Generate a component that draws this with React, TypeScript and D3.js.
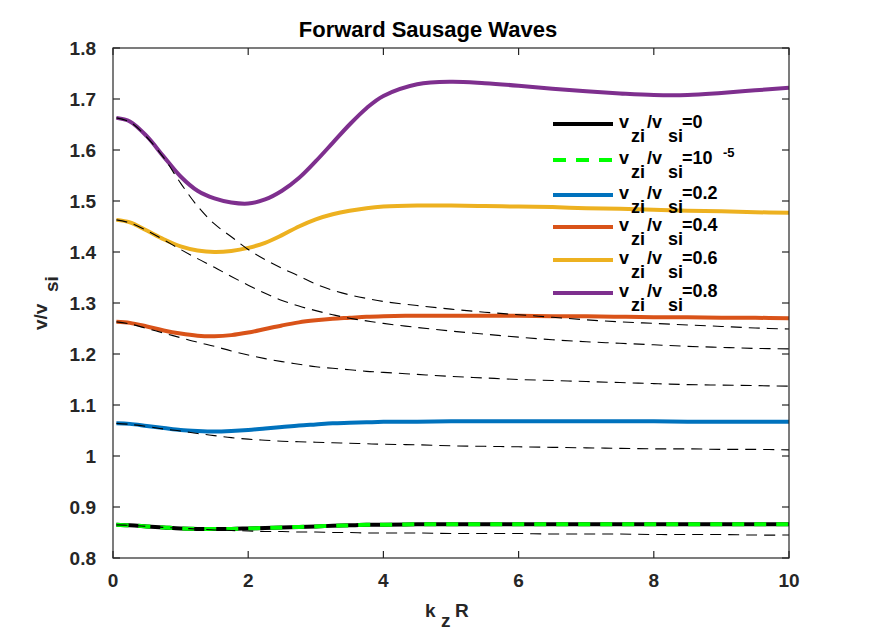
import React from 'react';
import * as d3 from 'd3';

// kz R sample points
const kR = [0.05, 0.25, 0.5, 0.75, 1, 1.25, 1.5, 1.75, 2, 2.25, 2.5, 2.75, 3, 3.25, 3.5, 3.75, 4, 4.5, 5, 5.5, 6, 6.5, 7, 7.5, 8, 8.5, 9, 9.5, 10];

// phase speed v / v_si for each v_zi / v_si
const v00 = [0.865, 0.864, 0.862, 0.86, 0.858, 0.857, 0.857, 0.857, 0.858, 0.859, 0.86, 0.861, 0.862, 0.863, 0.864, 0.865, 0.865, 0.866, 0.866, 0.866, 0.866, 0.866, 0.866, 0.866, 0.866, 0.866, 0.866, 0.866, 0.866];
const v02 = [1.064, 1.063, 1.059, 1.055, 1.051, 1.049, 1.048, 1.049, 1.051, 1.054, 1.057, 1.06, 1.062, 1.064, 1.065, 1.066, 1.067, 1.067, 1.068, 1.068, 1.068, 1.068, 1.068, 1.068, 1.068, 1.067, 1.067, 1.067, 1.067];
const v04 = [1.263, 1.261, 1.254, 1.246, 1.24, 1.236, 1.235, 1.237, 1.242, 1.249, 1.256, 1.262, 1.266, 1.269, 1.271, 1.273, 1.274, 1.275, 1.275, 1.275, 1.275, 1.274, 1.274, 1.273, 1.272, 1.272, 1.271, 1.271, 1.27];
const v06 = [1.463, 1.458, 1.442, 1.425, 1.411, 1.403, 1.4, 1.402, 1.408, 1.418, 1.433, 1.45, 1.464, 1.474, 1.481, 1.486, 1.489, 1.491, 1.491, 1.49, 1.489, 1.488, 1.486, 1.485, 1.483, 1.481, 1.48, 1.478, 1.477];
const v08 = [1.663, 1.656, 1.627, 1.587, 1.548, 1.52, 1.505, 1.497, 1.495, 1.503, 1.52, 1.545, 1.578, 1.614, 1.65, 1.682, 1.706, 1.729, 1.734, 1.731, 1.726, 1.72, 1.715, 1.711, 1.708, 1.708, 1.712, 1.717, 1.722];

// thin dashed reference curves
const d00 = [0.865, 0.864, 0.862, 0.86, 0.858, 0.857, 0.855, 0.854, 0.853, 0.852, 0.852, 0.851, 0.851, 0.85, 0.85, 0.849, 0.849, 0.849, 0.848, 0.848, 0.848, 0.847, 0.847, 0.847, 0.846, 0.846, 0.846, 0.845, 0.845];
const d02 = [1.064, 1.062, 1.058, 1.053, 1.049, 1.044, 1.04, 1.036, 1.033, 1.031, 1.029, 1.028, 1.027, 1.026, 1.025, 1.024, 1.023, 1.022, 1.02, 1.019, 1.018, 1.017, 1.016, 1.015, 1.014, 1.014, 1.013, 1.013, 1.012];
const d04 = [1.263, 1.259, 1.25, 1.241, 1.232, 1.223, 1.215, 1.206, 1.198, 1.191, 1.185, 1.18, 1.175, 1.172, 1.169, 1.166, 1.164, 1.16, 1.156, 1.153, 1.15, 1.148, 1.146, 1.144, 1.142, 1.14, 1.139, 1.138, 1.137];
const d06 = [1.463, 1.457, 1.442, 1.424, 1.405, 1.387, 1.37, 1.352, 1.335, 1.319, 1.305, 1.294, 1.285, 1.277, 1.27, 1.265, 1.26, 1.252, 1.245, 1.239, 1.233, 1.228, 1.224, 1.221, 1.218, 1.215, 1.213, 1.211, 1.21];
const d08 = [1.663, 1.655, 1.625, 1.585, 1.535, 1.49, 1.455, 1.43, 1.405, 1.385, 1.368, 1.353, 1.337, 1.325, 1.316, 1.309, 1.303, 1.295, 1.288, 1.282, 1.277, 1.272, 1.267, 1.263, 1.26, 1.257, 1.254, 1.251, 1.249];

const xTicks = [0, 2, 4, 6, 8, 10];
const yTicks = [0.8, 0.9, 1, 1.1, 1.2, 1.3, 1.4, 1.5, 1.6, 1.7, 1.8];

const legendValues = ['0', '10', '0.2', '0.4', '0.6', '0.8'];

const FONT = '"Liberation Sans", Arial, Helvetica, sans-serif';
const AX = '#262626';

const App: React.FC = () => {
  const width = 872;
  const height = 632;
  const margin = { top: 48, right: 83, bottom: 74, left: 113 };

  const x = d3.scaleLinear().domain([0, 10]).range([margin.left, width - margin.right]);
  const y = d3.scaleLinear().domain([0.8, 1.8]).range([height - margin.bottom, margin.top]);

  const line = d3
    .line<number>()
    .x((_, i) => x(kR[i]))
    .y(d => y(d))
    .curve(d3.curveCatmullRom.alpha(0.5));

  const solid = [
    { vals: v00, color: '#000000', dash: undefined as string | undefined },
    { vals: v00, color: '#00ff00', dash: '12,10' },
    { vals: v02, color: '#0072bd', dash: undefined },
    { vals: v04, color: '#d95319', dash: undefined },
    { vals: v06, color: '#edb120', dash: undefined },
    { vals: v08, color: '#7e2f8e', dash: undefined },
  ];
  const dashed = [d00, d02, d04, d06, d08];

  const [x0, x1] = x.range();
  const [y0, y1] = y.range();
  const tick = 7;

  const legendY = [124, 160, 195, 227, 260, 293];
  const lx = 553;
  const tx = 619;

  return (
    <div style={{ position: 'absolute', left: 0, top: 0 }}>
      <svg width={width} height={height} style={{ display: 'block', background: '#fff' }} fontFamily={FONT} fontWeight="bold">
        <rect x={0} y={0} width={width} height={height} fill="#fff" />

        <g fill="none" strokeLinejoin="round">
          {solid.map((s, i) => (
            <path key={i} d={line(s.vals) || ''} stroke={s.color} strokeWidth={4} strokeDasharray={s.dash} />
          ))}
          {dashed.map((d, i) => (
            <path key={'d' + i} d={line(d) || ''} stroke="#000" strokeWidth={1.1} strokeDasharray="11,7" />
          ))}
        </g>

        {/* axes box with inward ticks */}
        <g stroke={AX} strokeWidth={1.2} fill="none">
          <rect x={x0} y={y1} width={x1 - x0} height={y0 - y1} />
          {xTicks.map(t => (
            <g key={'xt' + t}>
              <line x1={x(t)} x2={x(t)} y1={y0} y2={y0 - tick} />
              <line x1={x(t)} x2={x(t)} y1={y1} y2={y1 + tick} />
            </g>
          ))}
          {yTicks.map(t => (
            <g key={'yt' + t}>
              <line x1={x0} x2={x0 + tick} y1={y(t)} y2={y(t)} />
              <line x1={x1} x2={x1 - tick} y1={y(t)} y2={y(t)} />
            </g>
          ))}
        </g>

        <g fill={AX} fontSize={19}>
          {xTicks.map(t => (
            <text key={'xl' + t} x={x(t)} y={y0 + 29} textAnchor="middle">
              {t}
            </text>
          ))}
          {yTicks.map(t => (
            <text key={'yl' + t} x={x0 - 17} y={y(t) + 7} textAnchor="end">
              {d3.format('~g')(t)}
            </text>
          ))}
        </g>

        {/* title */}
        <text x={428} y={37} textAnchor="middle" fontSize={22} fill="#000">
          Forward Sausage Waves
        </text>

        {/* x label */}
        <text y={617} fontSize={19} fill={AX}>
          <tspan x={425}>k</tspan>
          <tspan x={441} y={627}>z</tspan>
          <tspan x={455} y={617}>R</tspan>
        </text>

        {/* y label */}
        <g transform="translate(47,305) rotate(-90)">
          <text fontSize={19} fill={AX}>
            <tspan x={-25} y={0}>v/v</tspan>
            <tspan x={13} y={11}>si</tspan>
          </text>
        </g>

        {/* legend */}
        <g>
          {solid.map((s, i) => (
            <g key={'lg' + i}>
              {i === 1 ? (
                <line x1={lx} x2={lx + 60} y1={legendY[i]} y2={legendY[i]} stroke="#00ff00" strokeWidth={4} strokeDasharray="13,10" />
              ) : (
                <line x1={lx} x2={lx + 60} y1={legendY[i]} y2={legendY[i]} stroke={s.color} strokeWidth={4} />
              )}
              <text fontSize={18} fill="#000">
                <tspan x={tx} y={legendY[i] + 4}>v</tspan>
                <tspan x={tx + 12} y={legendY[i] + 18}>zi</tspan>
                <tspan x={tx + 28} y={legendY[i] + 4}>/v</tspan>
                <tspan x={tx + 49} y={legendY[i] + 18}>si</tspan>
                <tspan x={tx + 63} y={legendY[i] + 4}>={legendValues[i]}</tspan>
              </text>
              {i === 1 && (
                <text x={tx + 104} y={legendY[i] - 3} fontSize={13} fill="#000">
                  -5
                </text>
              )}
            </g>
          ))}
        </g>
      </svg>
    </div>
  );
};

export default App;
